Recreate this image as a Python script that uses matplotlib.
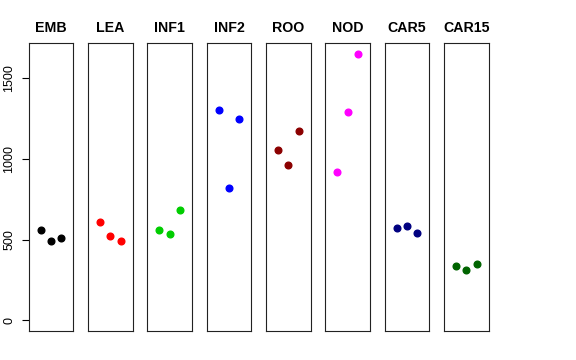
import matplotlib.pyplot as plt

groups = ["EMB", "LEA", "INF1", "INF2", "ROO", "NOD", "CAR5", "CAR15"]
colors = ["black", "red", "#00CD00", "blue", "#8B0000", "magenta", "#000080", "#006400"]
reps = [1, 2, 3]
values = [
    [560, 490, 510],
    [609, 522, 494],
    [560, 533, 684],
    [1303, 822, 1250],
    [1055, 960, 1173],
    [917, 1289, 1650],
    [570, 587, 539],
    [337, 312, 349],
]

plt.rcParams["font.family"] = ["Liberation Sans", "DejaVu Sans"]

W, H = 576, 360
fig = plt.figure(figsize=(W / 100, H / 100), dpi=100)

ymax = 1650
pad_y = ymax * 0.04
pad_x = 4 * 0.04

for i, (g, c, v) in enumerate(zip(groups, colors, values)):
    left = 28.7 + i * 59.33
    ax = fig.add_axes([left / W, 29 / H, 44.6 / W, 287.7 / H])
    ax.plot(reps, v, "o", color=c, markersize=4.8, linestyle="none")
    ax.set_xlim(-pad_x, 4 + pad_x)
    ax.set_ylim(-pad_y, ymax + pad_y)
    ax.set_xticks([])
    for s in ax.spines.values():
        s.set_linewidth(0.8)
        s.set_color("#222222")
    ax.set_title(g, fontsize=10.2, fontweight="bold", pad=8)
    if i == 0:
        ax.set_yticks([0, 500, 1000, 1500])
        ax.set_yticklabels(["0", "500", "1000", "1500"], rotation=90, va="center", fontsize=9)
        ax.tick_params(axis="y", length=5, width=0.8, pad=4.5)
    else:
        ax.set_yticks([])

fig.savefig("out.png", dpi=100)
